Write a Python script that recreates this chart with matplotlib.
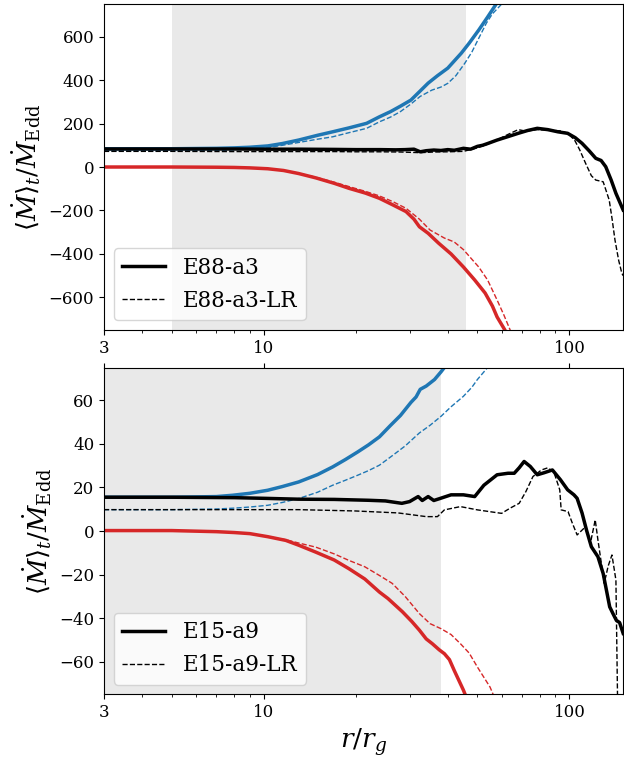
import numpy as np
import matplotlib.pyplot as plt

plt.rcParams['font.family'] = 'DejaVu Serif'
plt.rcParams['mathtext.fontset'] = 'dejavuserif'

blue = '#1f77b4'
red = '#d62728'

# ---- E88-a3 (top) ----
r_in_a3 = [3, 5, 7, 8, 9, 10.3, 11.5, 13, 15, 16.8, 19, 21.7, 23.9, 26, 28, 30.3, 32.5,
           34.5, 37, 40, 44.3, 47, 50.5, 54, 57.3, 60]
in_a3 = [84, 84, 86, 88, 91, 97, 108, 124, 146, 162, 180, 201, 231, 255, 280, 308, 350,
         386, 420, 455, 524, 570, 630, 690, 745, 790]
r_in_a3_lr = [3, 5, 7, 8, 9, 10.3, 11.5, 13, 15, 16.8, 19, 21.7, 23.9, 26, 28, 30.3, 32.5,
              35.5, 38, 40, 42.5, 45.5, 48, 50, 53.5, 56, 59.6, 62]
in_a3_lr = [74, 74, 76, 79, 83, 89, 100, 113, 128, 139, 158, 178, 208, 230, 255, 290, 325,
            354, 368, 385, 420, 478, 530, 580, 662, 705, 745, 790]

r_out_a3 = [3, 5, 7, 8, 9, 10.3, 11.6, 13, 14.8, 17, 19, 21.5, 23.9, 26.5, 29.2, 31, 32.3,
            34.5, 37.3, 41, 45, 49, 53, 56, 58, 61.5, 63]
out_a3 = [0, 0, -1, -2, -4, -8, -16, -30, -50, -75, -98, -120, -144, -175, -205, -240, -275,
          -305, -350, -400, -460, -520, -580, -640, -690, -750, -790]
r_out_a3_lr = [3, 5, 7, 8, 9, 10.3, 11.6, 13, 14.8, 17, 19, 21.5, 23.9, 26.5, 29.2, 32.3, 35,
               39, 42, 45, 48, 50.5, 54, 58, 61, 64, 66]
out_a3_lr = [0, 0, -1, -2, -4, -8, -16, -29, -47, -70, -90, -112, -133, -160, -190, -240, -290,
             -327, -345, -380, -425, -460, -520, -612, -680, -750, -790]

r_net_a3 = [3, 5, 8, 10, 13, 17, 20, 24, 27, 29, 31, 32.5, 34, 36, 38, 40, 42, 45, 47.5,
            50, 52, 54, 58, 63, 68, 73, 78.5, 85, 91.7, 98.7, 104.5, 110, 116, 122, 127, 131.5,
            137, 142, 146, 150]
net_a3 = [83, 83, 83, 82, 82, 81, 80, 80, 79, 80, 82, 70, 75, 78, 76, 80, 77, 86, 82,
          95, 100, 108, 124, 140, 155, 168, 178, 172, 162, 155, 135, 109, 75, 40, 30, 1.5,
          -60, -121, -160, -198]
r_net_a3_lr = [3, 5, 8, 10, 13, 17, 20, 24, 28, 32.5, 36, 40, 45, 50, 54, 58, 63, 68, 72,
               78.5, 85, 94, 98.7, 104, 108, 113, 118, 122, 129, 135, 138, 141, 145, 148.5, 150]
net_a3_lr = [72, 72, 71, 71, 71, 71, 70, 70, 69, 66, 69, 70, 72, 88, 105, 125, 150, 172, 165,
             172, 170, 166, 155, 124, 80, 17, -40, -60, -68, -152, -240, -336, -430, -489, -500]

# ---- E15-a9 (bottom) ----
r_in_a9 = [3, 5, 7, 7.9, 9, 10.3, 11.5, 13, 15, 16.8, 18.5, 20.3, 22, 23.9, 26, 28, 30.3,
           31.5, 32.5, 34, 36.2, 38, 40.5]
in_a9 = [15.5, 15.5, 15.8, 16.4, 17.3, 18.7, 20.4, 22.5, 25.9, 29.4, 32.8, 36.3, 39.5, 43.2,
         48.5, 53, 59, 61.5, 65, 66.5, 69.5, 73, 78]
r_in_a9_lr = [3, 5, 7, 8, 9, 10.3, 11.5, 13, 15, 16.8, 18.5, 20.3, 22, 23.9, 26.3, 29, 32.3,
              35, 38, 41, 45, 48, 50, 54, 56]
in_a9_lr = [9.8, 9.8, 10.1, 10.5, 11, 11.8, 13.1, 14.9, 17.8, 21, 23.3, 25.6, 27.7, 30.2, 34.5,
            39, 45, 48.5, 52.6, 57, 61.8, 66, 69.5, 75, 78]

r_out_a9 = [3, 5, 7, 8, 9, 10.3, 11.8, 13, 14.8, 17, 19, 21.4, 23.9, 25.5, 28.4, 30.5, 32.3,
            34, 35.6, 37.5, 39, 40.5, 42, 45, 46.5]
out_a9 = [0.2, 0.2, -0.3, -0.7, -1.2, -2.6, -4.3, -6.5, -9.7, -13.3, -17.3, -22, -28, -31,
          -37, -41.5, -45.5, -49.5, -51.7, -54.5, -56.3, -59, -64, -73, -78]
r_out_a9_lr = [3, 5, 7, 8, 9, 10.3, 11.8, 13, 14.8, 17, 19, 21.4, 23.9, 26.3, 29, 32.3, 35,
               38, 41, 44, 47, 50, 55, 57.5]
out_a9_lr = [0.2, 0.2, -0.3, -0.7, -1.2, -2.6, -4, -5.5, -7.4, -10.5, -13.5, -16.4, -20.4, -24,
             -30, -37.9, -42.5, -44.8, -47.5, -51.7, -56, -62.4, -71.6, -78]

r_net_a9 = [3, 5, 8, 10, 13, 17, 22, 25, 28.3, 30, 32, 33, 34.5, 36, 37.5, 41, 45, 49, 52.5,
            58, 63, 66, 68.5, 71.1, 74.5, 78.5, 82.5, 88, 93.5, 98.7, 103.5, 106, 110, 114, 118,
            124, 129, 135.5, 139, 142.5, 146, 150]
net_a9 = [15.5, 15.5, 15.3, 15, 14.6, 14.5, 14.1, 13.8, 12.7, 13.5, 15.8, 14, 15.8, 14, 14.8,
          16.6, 16.6, 15.8, 21, 25.8, 26.5, 26.5, 29, 31.9, 29.6, 25.8, 26.7, 28, 23.5, 18.9,
          16.6, 15, 8.3, 0, -7.2, -11.8, -19.5, -34.8, -38, -41, -42, -47]
r_net_a9_lr = [3, 5, 8, 10, 13, 19.9, 27.5, 34, 37, 39, 44, 50, 60, 64, 68.5, 72, 76, 81, 85,
               89, 93, 94, 99, 102, 106, 113, 117, 121.5, 124, 127, 130, 134, 137.8, 140, 142,
               143.7, 145]
net_a9_lr = [9.8, 9.8, 9.8, 9.8, 9.8, 9.2, 8.3, 6.6, 6.6, 9.7, 11.2, 9.7, 8.1, 10.5, 12.7, 18,
             25, 28, 29, 27, 18.9, 9.7, 8.9, 4, -1.8, 2, -6, 5.1, -4.1, -14, -24, -16, -11,
             -17, -22.5, -75, -80]

fig = plt.figure(figsize=(6.24, 7.6), dpi=100)
ax1 = fig.add_axes([0.1667, 0.5658, 0.8320, 0.4289])
ax2 = fig.add_axes([0.1667, 0.0862, 0.8320, 0.4302])


def draw_panel(ax, shade, r_in, v_in, r_in_lr, v_in_lr, r_out, v_out, r_out_lr, v_out_lr,
               r_net, v_net, r_net_lr, v_net_lr, name, ylim, yticks):
    ax.axvspan(shade[0], shade[1], color='#e9e9e9', zorder=0, lw=0)
    ax.plot(r_in, v_in, color=blue, lw=2.5)
    ax.plot(r_in_lr, v_in_lr, color=blue, lw=1, ls='--')
    ax.plot(r_out, v_out, color=red, lw=2.5)
    ax.plot(r_out_lr, v_out_lr, color=red, lw=1, ls='--')
    ax.plot(r_net, v_net, color='k', lw=2.5, label=name)
    ax.plot(r_net_lr, v_net_lr, color='k', lw=1, ls='--', label=name + '-LR')
    ax.set_xscale('log')
    ax.set_xlim(3, 150)
    ax.set_ylim(*ylim)
    ax.set_yticks(yticks)
    ax.set_xticks([3, 10, 100])
    ax.set_xticklabels(['3', '10', '100'])
    ax.tick_params(labelsize=12)
    ax.set_ylabel(r'$\langle \dot{M} \rangle_t / \dot{M}_{\rm Edd}$', fontsize=18.5)
    ax.legend(loc='lower left', fontsize=15.5, borderaxespad=0.45)


draw_panel(ax1, (5, 46), r_in_a3, in_a3, r_in_a3_lr, in_a3_lr, r_out_a3, out_a3,
           r_out_a3_lr, out_a3_lr, r_net_a3, net_a3, r_net_a3_lr, net_a3_lr,
           'E88-a3', (-750, 750), [-600, -400, -200, 0, 200, 400, 600])
draw_panel(ax2, (2, 38), r_in_a9, in_a9, r_in_a9_lr, in_a9_lr, r_out_a9, out_a9,
           r_out_a9_lr, out_a9_lr, r_net_a9, net_a9, r_net_a9_lr, net_a9_lr,
           'E15-a9', (-75, 75), [-60, -40, -20, 0, 20, 40, 60])
ax2.tick_params(which='major', top=True)
ax2.set_xlabel(r'$r/r_g$', fontsize=19)

fig.savefig('out.png', dpi=100)
